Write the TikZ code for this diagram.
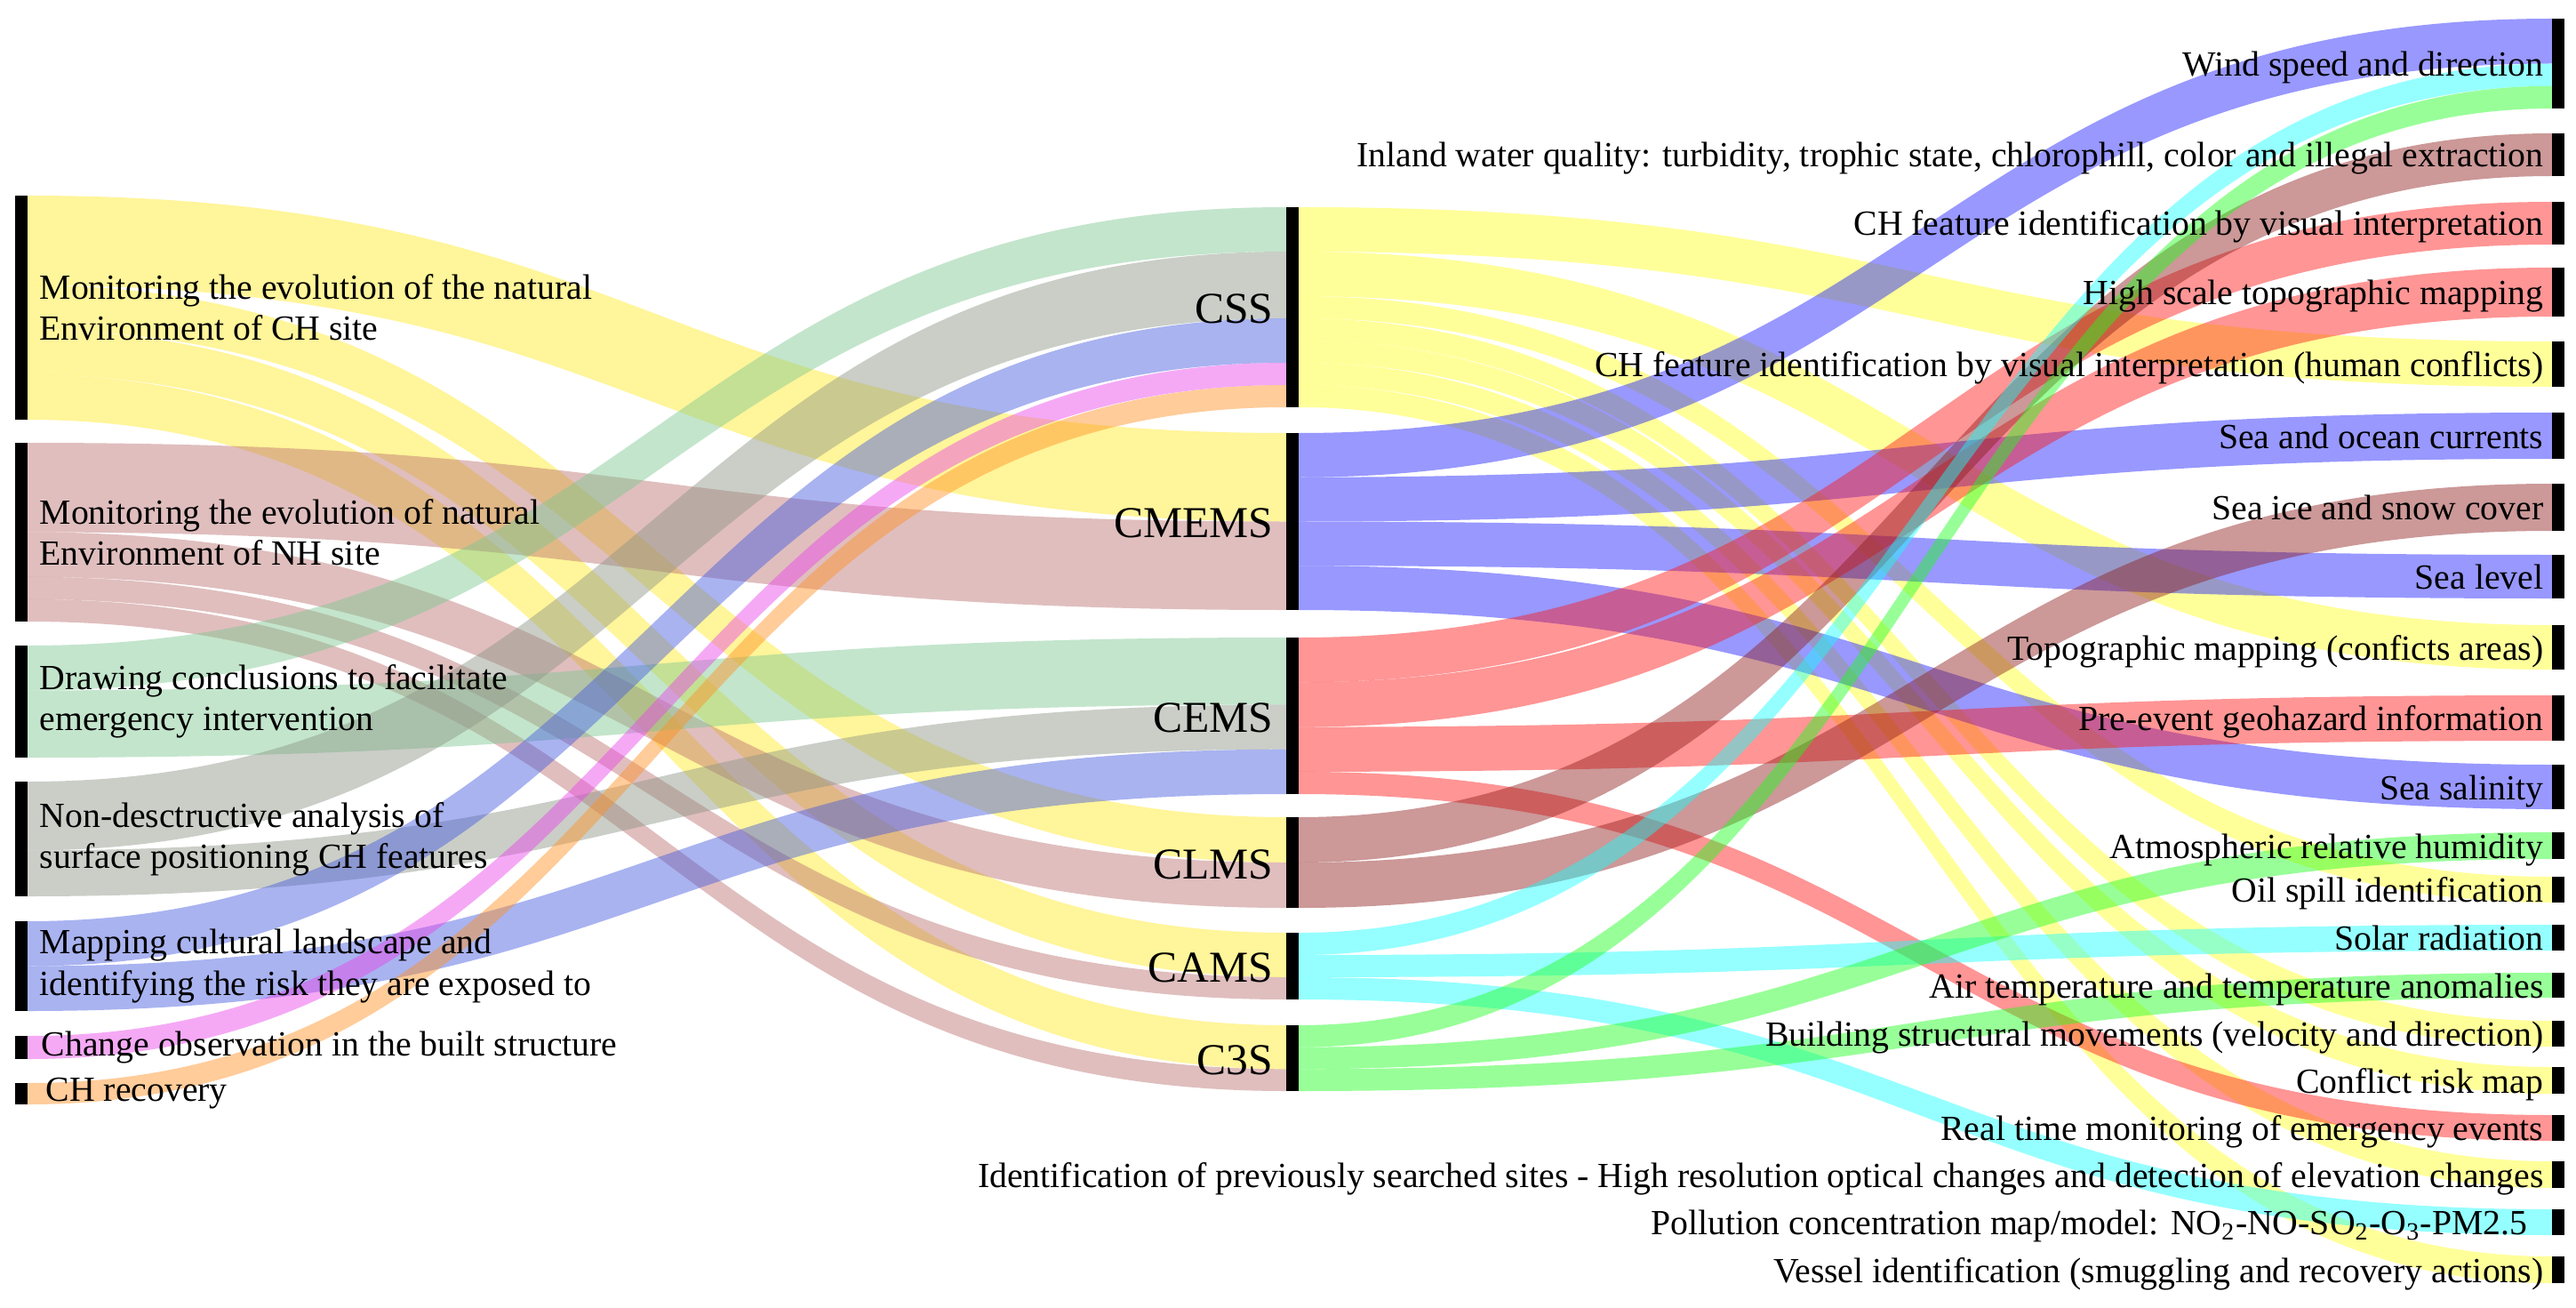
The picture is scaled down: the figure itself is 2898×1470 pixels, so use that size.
\documentclass[tikz,border=0pt]{standalone}
\usepackage{fontspec}
\setmainfont{Liberation Serif}
\usetikzlibrary{calc}
\pgfdeclarelayer{bg}
\pgfsetlayers{bg,main}
\definecolor{cLa}{RGB}{255,233,33}
\definecolor{cLb}{RGB}{188,111,111}
\definecolor{cLc}{RGB}{122,199,144}
\definecolor{cLd}{RGB}{139,148,133}
\definecolor{cLe}{RGB}{66,88,222}
\definecolor{cLf}{RGB}{233,66,233}
\definecolor{cLg}{RGB}{255,144,33}
\definecolor{cY}{RGB}{255,255,33}
\definecolor{cB}{RGB}{28,28,255}
\definecolor{cR}{RGB}{255,22,22}
\definecolor{cBr}{RGB}{142,28,28}
\definecolor{cC}{RGB}{22,255,255}
\definecolor{cG}{RGB}{28,255,28}
\tikzset{
  barnode/.style={fill=black, draw=none, inner sep=0pt, outer sep=0pt, minimum width=0.14cm, anchor=north west},
  flowband/.style={fill=#1, fill opacity=0.45, draw=none},
  lab/.style={font=\fontsize{11.3pt}{13.1pt}\selectfont, inner sep=0pt, text=black},
  leftlab/.style={lab, anchor=west, align=left},
  rightlab/.style={lab, anchor=base east},
  midlab/.style={font=\fontsize{14.1pt}{16pt}\selectfont, inner sep=0pt, anchor=base east},
}
\newcommand\mkbar[4]{\node[barnode, minimum height={(#4-#3)*0.01cm}] (#1) at (#2,#3) {};}
\newcommand\flow[7]{%
  \coordinate (fsa) at ($(#2.north east)+(0,#3)$);
  \coordinate (fsb) at ($(#2.north east)+(0,#4)$);
  \coordinate (fta) at ($(#5.north west)+(0,#6)$);
  \coordinate (ftb) at ($(#5.north west)+(0,#7)$);
  \coordinate (fm) at ($(fsa)!0.5!(fta)$);
  \fill[flowband=#1] (fsa) .. controls (fm |- fsa) and (fm |- fta) .. (fta) -- (ftb) .. controls (fm |- ftb) and (fm |- fsb) .. (fsb) -- cycle;
}
\begin{document}
\begin{tikzpicture}[x=0.01cm, y=-0.01cm]
\useasboundingbox (0,0) rectangle (2898,1470);
% left bars
\mkbar{L1}{17}{220}{472}
\mkbar{L2}{17}{498}{699}
\mkbar{L3}{17}{726}{852}
\mkbar{L4}{17}{879}{1008}
\mkbar{L5}{17}{1036}{1137}
\mkbar{L6}{17}{1165}{1191}
\mkbar{L7}{17}{1218}{1242}
% middle bars
\mkbar{CSS}{1447}{233}{458}
\mkbar{CMEMS}{1447}{487}{686}
\mkbar{CEMS}{1447}{717}{893}
\mkbar{CLMS}{1447}{919}{1021}
\mkbar{CAMS}{1447}{1049}{1124}
\mkbar{C3S}{1447}{1153}{1227}
% right bars
\mkbar{R1}{2871}{21}{122}
\mkbar{R2}{2871}{150}{198}
\mkbar{R3}{2871}{227}{275}
\mkbar{R4}{2871}{301}{356}
\mkbar{R5}{2871}{384}{435}
\mkbar{R6}{2871}{464}{516}
\mkbar{R7}{2871}{544}{597}
\mkbar{R8}{2871}{624}{673}
\mkbar{R9}{2871}{703}{753}
\mkbar{R10}{2871}{782}{833}
\mkbar{R11}{2871}{860}{910}
\mkbar{R12}{2871}{936}{966}
\mkbar{R13}{2871}{986}{1015}
\mkbar{R14}{2871}{1040}{1069}
\mkbar{R15}{2871}{1094}{1122}
\mkbar{R16}{2871}{1148}{1177}
\mkbar{R17}{2871}{1200}{1230}
\mkbar{R18}{2871}{1254}{1283}
\mkbar{R19}{2871}{1306}{1336}
\mkbar{R20}{2871}{1360}{1389}
\mkbar{R21}{2871}{1413}{1443}
\begin{pgfonlayer}{bg}
\fill[white] (0,0) rectangle (2898,1470);
% left -> middle
\flow{cLa}{L1}{0}{100.8}{CMEMS}{0}{99.5}
\flow{cLa}{L1}{100.8}{151.2}{CLMS}{0}{51}
\flow{cLa}{L1}{151.2}{201.6}{CAMS}{0}{50}
\flow{cLa}{L1}{201.6}{252}{C3S}{0}{49.3}
\flow{cLb}{L2}{0}{100.5}{CMEMS}{99.5}{199}
\flow{cLb}{L2}{100.5}{150.75}{CLMS}{51}{102}
\flow{cLb}{L2}{150.75}{175.9}{CAMS}{50}{75}
\flow{cLb}{L2}{175.9}{201}{C3S}{49.3}{74}
\flow{cLc}{L3}{0}{50.4}{CSS}{0}{50}
\flow{cLc}{L3}{50.4}{126}{CEMS}{0}{75.4}
\flow{cLd}{L4}{0}{77.4}{CSS}{50}{125}
\flow{cLd}{L4}{77.4}{129}{CEMS}{75.4}{125.7}
\flow{cLe}{L5}{0}{50.5}{CSS}{125}{175}
\flow{cLe}{L5}{50.5}{101}{CEMS}{125.7}{176}
\flow{cLf}{L6}{0}{26}{CSS}{175}{200}
\flow{cLg}{L7}{0}{24}{CSS}{200}{225}
% middle -> right
\flow{cY}{CSS}{0}{50}{R5}{0}{51}
\flow{cY}{CSS}{50}{100}{R9}{0}{50}
\flow{cY}{CSS}{100}{125}{R13}{0}{29}
\flow{cY}{CSS}{125}{150}{R16}{0}{29}
\flow{cY}{CSS}{150}{175}{R17}{0}{30}
\flow{cY}{CSS}{175}{200}{R19}{0}{30}
\flow{cY}{CSS}{200}{225}{R21}{0}{30}
\flow{cB}{CMEMS}{0}{49.75}{R1}{0}{50.5}
\flow{cB}{CMEMS}{49.75}{99.5}{R6}{0}{52}
\flow{cB}{CMEMS}{99.5}{149.25}{R8}{0}{49}
\flow{cB}{CMEMS}{149.25}{199}{R11}{0}{50}
\flow{cR}{CEMS}{0}{50.3}{R3}{0}{48}
\flow{cR}{CEMS}{50.3}{100.6}{R4}{0}{55}
\flow{cR}{CEMS}{100.6}{150.9}{R10}{0}{51}
\flow{cR}{CEMS}{150.9}{176}{R18}{0}{29}
\flow{cBr}{CLMS}{0}{51}{R2}{0}{48}
\flow{cBr}{CLMS}{51}{102}{R7}{0}{53}
\flow{cC}{CAMS}{0}{25}{R1}{50.5}{75.75}
\flow{cC}{CAMS}{25}{50}{R14}{0}{29}
\flow{cC}{CAMS}{50}{75}{R20}{0}{29}
\flow{cG}{C3S}{0}{24.67}{R1}{75.75}{101}
\flow{cG}{C3S}{24.67}{49.3}{R12}{0}{30}
\flow{cG}{C3S}{49.3}{74}{R15}{0}{28}
\end{pgfonlayer}
% left labels
\node[leftlab] (tL1) at ($(L1.east)+(13,0)$) {Monitoring the evolution of the natural\\Environment of CH site};
\node[leftlab] (tL2) at ($(L2.east)+(13,0)$) {Monitoring the evolution of natural\\Environment of NH site};
\node[leftlab] (tL3) at ($(L3.east)+(13,0)$) {Drawing conclusions to facilitate\\emergency intervention};
\node[leftlab] (tL4) at ($(L4.east)+(13,0)$) {Non-desctructive analysis of\\surface positioning CH features};
\node[leftlab] (tL5) at ($(L5.east)+(13,0)$) {Mapping cultural landscape and\\identifying the risk they are exposed to};
\node[leftlab] (tL6) at ($(L6.east)+(15,0)$) {Change observation in the built structure};
\node[leftlab] (tL7) at ($(L7.east)+(20,0)$) {CH recovery};
% middle labels
\node[midlab] (tCSS) at ($(CSS.west)+(-14,18)$) {CSS};
\node[midlab] (tCMEMS) at ($(CMEMS.west)+(-14,18)$) {CMEMS};
\node[midlab] (tCEMS) at ($(CEMS.west)+(-14,18)$) {CEMS};
\node[midlab] (tCLMS) at ($(CLMS.west)+(-14,18)$) {CLMS};
\node[midlab] (tCAMS) at ($(CAMS.west)+(-14,18)$) {CAMS};
\node[midlab] (tC3S) at ($(C3S.west)+(-14,18)$) {C3S};
% right labels
\node[rightlab] (tR1) at ($(R1.west)+(-9,14)$) {Wind speed and direction};
\node[rightlab] (tR2) at ($(R2.west)+(-9,14)$) {Inland water quality: turbidity, trophic state, chlorophill, color and illegal extraction};
\node[rightlab] (tR3) at ($(R3.west)+(-9,14)$) {CH feature identification by visual interpretation};
\node[rightlab] (tR4) at ($(R4.west)+(-9,14)$) {High scale topographic mapping};
\node[rightlab] (tR5) at ($(R5.west)+(-9,14)$) {CH feature identification by visual interpretation (human conflicts)};
\node[rightlab] (tR6) at ($(R6.west)+(-9,14)$) {Sea and ocean currents};
\node[rightlab] (tR7) at ($(R7.west)+(-9,14)$) {Sea ice and snow cover};
\node[rightlab] (tR8) at ($(R8.west)+(-9,14)$) {Sea level};
\node[rightlab] (tR9) at ($(R9.west)+(-9,14)$) {Topographic mapping (conficts areas)};
\node[rightlab] (tR10) at ($(R10.west)+(-9,14)$) {Pre-event geohazard information};
\node[rightlab] (tR11) at ($(R11.west)+(-9,14)$) {Sea salinity};
\node[rightlab] (tR12) at ($(R12.west)+(-9,14)$) {Atmospheric relative humidity};
\node[rightlab] (tR13) at ($(R13.west)+(-9,14)$) {Oil spill identification};
\node[rightlab] (tR14) at ($(R14.west)+(-9,14)$) {Solar radiation};
\node[rightlab] (tR15) at ($(R15.west)+(-9,14)$) {Air temperature and temperature anomalies};
\node[rightlab] (tR16) at ($(R16.west)+(-9,14)$) {Building structural movements (velocity and direction)};
\node[rightlab] (tR17) at ($(R17.west)+(-9,14)$) {Conflict risk map};
\node[rightlab] (tR18) at ($(R18.west)+(-9,14)$) {Real time monitoring of emergency events};
\node[rightlab] (tR19) at ($(R19.west)+(-9,14)$) {Identification of previously searched sites - High resolution optical changes and detection of elevation changes};
\node[rightlab] (tR20) at ($(R20.west)+(-27,14)$) {Pollution concentration map/model: NO\textsubscript{2}-NO-SO\textsubscript{2}-O\textsubscript{3}-PM2.5};
\node[rightlab] (tR21) at ($(R21.west)+(-9,14)$) {Vessel identification (smuggling and recovery actions)};
\end{tikzpicture}
\end{document}
